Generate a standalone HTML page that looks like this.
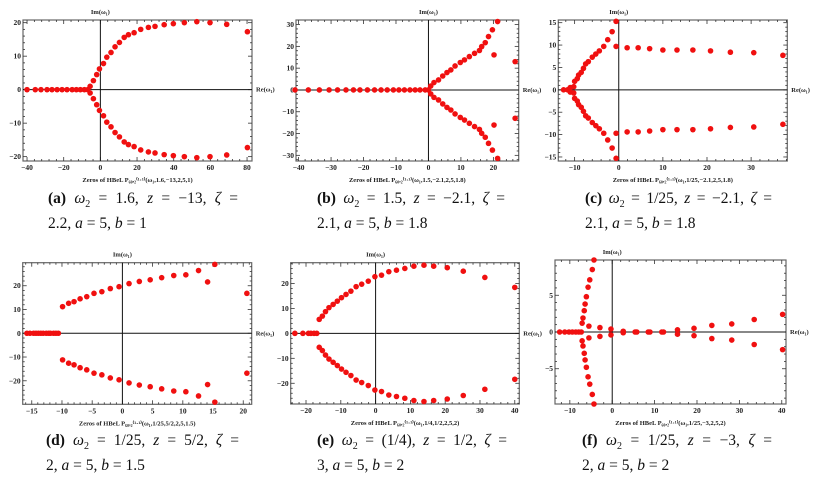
<!DOCTYPE html>
<html><head><meta charset="utf-8">
<style>
body{margin:0;background:#fff;width:818px;height:478px;overflow:hidden;position:relative;font-family:"Liberation Serif",serif;}
svg{position:absolute;left:0;top:0;}
.cap{position:absolute;font-size:15.5px;color:#111;line-height:19px;}
.cap .l1{text-align:justify;text-align-last:justify;white-space:nowrap;}
.cap b{font-weight:bold;}
</style></head>
<body>
<svg id="chart" width="818" height="478" viewBox="0 0 818 478"></svg>

<div class="cap" style="left:48px;top:189px;width:190px;"><div class="l1"><b>(a)</b> <i>ω</i><sub style="font-size:10px">2</sub> = 1.6, <i>z</i> = −13, <i>ζ</i> =</div><div>2.2, <i>a</i> = 5, <i>b</i> = 1</div></div>
<div class="cap" style="left:317px;top:189px;width:188px;"><div class="l1"><b>(b)</b> <i>ω</i><sub style="font-size:10px">2</sub> = 1.5, <i>z</i> = −2.1, <i>ζ</i> =</div><div>2.1, <i>a</i> = 5, <i>b</i> = 1.8</div></div>
<div class="cap" style="left:585px;top:189px;width:187px;"><div class="l1"><b>(c)</b> <i>ω</i><sub style="font-size:10px">2</sub> = 1/25, <i>z</i> = −2.1, <i>ζ</i> =</div><div>2.1, <i>a</i> = 5, <i>b</i> = 1.8</div></div>
<div class="cap" style="left:46px;top:431px;width:193px;"><div class="l1"><b>(d)</b> <i>ω</i><sub style="font-size:10px">2</sub> = 1/25, <i>z</i> = 5/2, <i>ζ</i> =</div><div>2, <i>a</i> = 5, <i>b</i> = 1.5</div></div>
<div class="cap" style="left:317px;top:431px;width:190px;"><div class="l1"><b>(e)</b> <i>ω</i><sub style="font-size:10px">2</sub> = (1/4), <i>z</i> = 1/2, <i>ζ</i> =</div><div>3, <i>a</i> = 5, <i>b</i> = 2</div></div>
<div class="cap" style="left:582px;top:431px;width:190px;"><div class="l1"><b>(f)</b> <i>ω</i><sub style="font-size:10px">2</sub> = 1/25, <i>z</i> = −3, <i>ζ</i> =</div><div>2, <i>a</i> = 5, <i>b</i> = 2</div></div>

<script>
// Panel data (upper half-plane zeros; conjugates are also zeros)
const aX=[-40,-35.5,-32.4,-29.1,-26.4,-23.6,-20.9,-18.2,-15.4,-13.1,-10.9,-8.7,-6.9,-5.6,-3.8,-2,-0.5,1.7,3.5,5.8,8,10.4,13,15.3,18.4,22,26.2,29.8,34.8,39.8,45.8,52.6,59.8,68.9,80.2];
const aY=[0,0,0,0,0,0,0,0,0,0,0,0,0,1,2.7,4.5,6.2,7.8,9.7,11.1,12.8,14.1,15.6,16.4,17,18,18.6,18.9,19.4,19.7,20,20.3,20,19.5,17.3];
const bX=[-41.1,-37,-33.6,-30.6,-28,-25.4,-23.1,-21.1,-18.8,-16.6,-14.6,-12.7,-10.8,-9.1,-7.4,-5.7,-4.1,-2.6,-1,0,0.7,1.7,3.1,4.4,5.7,6.9,8.2,9.8,11.1,12.6,14.2,15.7,16.4,17.5,18.5,19.7,21.3,20.2,26.7];
const bY=[0,0,0,0,0,0,0,0,0,0,0,0,0,0,0,0,0,0,0,0,1.8,3.4,4.6,6.4,8,9.2,11,12.6,13.8,15.3,16.8,18.1,19.9,21.7,24.5,27.6,31.4,16.1,13];
const cX=[-12.5,-11.6,-11,-10.2,-10,-9.4,-9.1,-8.5,-8,-7.5,-6.9,-6,-5.2,-4.4,-3.4,-2.5,-1.5,-0.6,-0.6,1.9,4.4,7,10,13.2,16.8,20.8,25.3,30.6,37.2];
const cY=[0,0,0.5,0.7,1.9,2.5,3.3,3.9,4.8,5.8,6.3,7.3,8,8.7,9.7,11.2,13,15.3,9.7,9.4,9.4,9.2,8.9,8.9,8.9,8.7,8.4,8.3,7.7];
const dX=[-15.8,-15.3,-14.7,-14.3,-13.9,-13.5,-13.1,-12.6,-12.2,-11.9,-11.4,-11,-10.6,-9.9,-8.9,-8,-7,-5.9,-4.7,-3.4,-2,-0.55,1.1,2.8,4.6,6.5,8.5,10.5,12.6,15.3,14.1,20.6];
const dY=[0,0,0,0,0,0,0,0,0,0,0,0,0,11.2,12.6,13.3,14.5,15.4,16.8,17.5,18.8,19.6,20.9,21.8,22.5,23.4,24.3,24.6,26.4,29,21.6,16.8];
const eX=[-23.2,-20.9,-19.3,-18.6,-17.7,-16.9,-16.2,-15.3,-14.4,-13.4,-12.2,-11,-9.8,-8.5,-7.1,-5.6,-4,-2.1,-0.2,1.7,3.8,6,8.4,11,13.9,16.7,20.6,25.2,31.4,40];
const eY=[0,0,0,0,0,0,5.6,6.9,8.7,10.3,11.6,12.9,14.3,15.6,16.9,18.7,19.7,20.9,22.7,23.3,24.7,25.3,26,26.9,27.3,26.9,26.3,24.9,22.4,18.4];
const fX=[-12.4,-11.2,-10.2,-9.4,-8.6,-7.9,-7.3,-7.1,-6.9,-6.6,-6.4,-6.1,-5.7,-5.3,-4.7,-4.3,-5.5,-2.9,-0.3,2.6,5.4,5.8,8.5,8.9,11.7,12.1,15.4,19.3,23.5,28.2,33.5,40.2];
const fY=[0,0,0,0,0,0,0,1.2,1.9,2.9,3.8,4.8,6.1,7.1,8.5,9.8,0.8,0.6,0.4,0.1,0,0,0,0,0,0,0.3,0.5,0.9,1.1,1.7,2.4];
// tick labels
const aXt=[-40,-20,0,20,40,60,80], aYt=[-20,-10,0,10,20];
const bXt=[-40,-30,-20,-10,0,10,20], bYt=[-30,-20,-10,0,10,20,30];
const cXt=[-10,0,10,20,30], cYt=[-15,-10,-5,0,5,10,15];
const dXt=[-15,-10,-5,0,5,10,15,20], dYt=[-20,-10,0,10,20];
const eXt=[-20,-10,0,10,20,30,40], eYt=[-20,-10,0,10,20];
const fXt=[-10,0,10,20,30,40], fYt=[-5,0,5];
const aSub="(ω₁,1.6,−13,2,5,1)", bSub="(ω₁,1.5,−2.1,2,5,1.8)", cSub="(ω₁,1/25,−2.1,2,5,1.8)";
const dSub="(ω₁,1/25,5/2,2,5,1.5)", eSub="(ω₁,1/4,1/2,2,5,2)", fSub="(ω₁,1/25,−3,2,5,2)";

const panels=[
 {id:'a',L:23,R:252,T:20,B:161,xd:[-42.2,82.7],yd:[-21.3,20.8],X:aX,Y:aY,xt:aXt,yt:aYt,sub:aSub},
 {id:'b',L:296,R:518.7,T:20,B:161,xd:[-40.8,27.8],yd:[-32.6,32.1],X:bX,Y:bY,xt:bXt,yt:bYt,sub:bSub},
 {id:'c',L:558.3,R:787.3,T:20,B:161,xd:[-13.7,38.2],yd:[-15.9,15.6],X:cX,Y:cY,xt:cXt,yt:cYt,sub:cSub},
 {id:'d',L:22.7,R:251.7,T:262.7,B:404.3,xd:[-16.5,21.4],yd:[-29.9,29.7],X:dX,Y:dY,xt:dXt,yt:dYt,sub:dSub},
 {id:'e',L:290.7,R:519.3,T:262.7,B:404,xd:[-24.4,41.3],yd:[-28.3,28.3],X:eX,Y:eY,xt:eXt,yt:eYt,sub:eSub},
 {id:'f',L:555,R:786,T:260,B:404,xd:[-13.5,41],yd:[-9.8,9.8],X:fX,Y:fY,xt:fXt,yt:fYt,sub:fSub}
];
const NS='http://www.w3.org/2000/svg';
const svg=document.getElementById('chart');
function mk(tag,attrs,parent){const e=document.createElementNS(NS,tag);for(const k in attrs)e.setAttribute(k,attrs[k]);(parent||svg).appendChild(e);return e;}
panels.forEach(p=>{
  const g=mk('g',{});
  
  
  const sx=v=>p.L+(v-p.xd[0])/(p.xd[1]-p.xd[0])*(p.R-p.L);
  const sy=v=>p.B-(v-p.yd[0])/(p.yd[1]-p.yd[0])*(p.B-p.T);
  const fr=mk('rect',{x:p.L,y:p.T,width:p.R-p.L,height:p.B-p.T,fill:'none',stroke:'#666','stroke-width':1.2},g);
  
  
  const xs=p.xt[1]-p.xt[0], ys=p.yt[1]-p.yt[0];
  for(let v=p.xt[0]-xs;v<=p.xt[p.xt.length-1]+xs+1e-9;v+=xs/5){
    const x=sx(v); if(x<p.L+0.5||x>p.R-0.5)continue;
    const maj=Math.abs(Math.round((v-p.xt[0])/xs)*xs-(v-p.xt[0]))<1e-6;
    const len=maj?4:2;
    mk('line',{x1:x,x2:x,y1:p.B,y2:p.B-len,stroke:'#333','stroke-width':0.8},g);
    mk('line',{x1:x,x2:x,y1:p.T,y2:p.T+len,stroke:'#333','stroke-width':0.8},g);
  }
  for(let v=p.yt[0]-ys;v<=p.yt[p.yt.length-1]+ys+1e-9;v+=ys/5){
    const y=sy(v); if(y<p.T+0.5||y>p.B-0.5)continue;
    const maj=Math.abs(Math.round((v-p.yt[0])/ys)*ys-(v-p.yt[0]))<1e-6;
    const len=maj?4:2;
    mk('line',{x1:p.L,x2:p.L+len,y1:y,y2:y,stroke:'#333','stroke-width':0.8},g);
    mk('line',{x1:p.R,x2:p.R-len,y1:y,y2:y,stroke:'#333','stroke-width':0.8},g);
  }
  p.xt.forEach(v=>{const t=mk('text',{x:sx(v),y:p.B+9,'font-size':7.5,'font-weight':'bold','text-anchor':'middle',fill:'#222','font-family':'Liberation Serif, serif'},g);t.textContent=v<0?'−'+(-v):v;
    
    });
  p.yt.forEach(v=>{const t=mk('text',{x:p.L-2,y:sy(v)+2.5,'font-size':7.5,'font-weight':'bold','text-anchor':'end',fill:'#222','font-family':'Liberation Serif, serif'},g);t.textContent=v<0?'−'+(-v):v;
    
    });
  const x0=sx(0), y0=sy(0);
  const ya=mk('line',{x1:x0,x2:x0,y1:p.T,y2:p.B,stroke:'#111','stroke-width':1},g);
  
  
  const xa=mk('line',{x1:p.L,x2:p.R,y1:y0,y2:y0,stroke:'#111','stroke-width':1},g);
  
  
  const im=mk('text',{x:x0,y:p.T-6,'font-size':6.5,'font-weight':'bold','text-anchor':'middle',fill:'#222','font-family':'Liberation Serif, serif'},g);
  im.textContent='Im(ω₁)';
  
  
  const re=mk('text',{x:p.R+4,y:y0+2,'font-size':6.5,'font-weight':'bold',fill:'#222','font-family':'Liberation Serif, serif'},g);
  re.textContent='Re(ω₁)';
  
  
  const st=mk('text',{x:(p.L+p.R)/2,y:p.B+21,'font-size':6.5,'font-weight':'bold','text-anchor':'middle',fill:'#222','font-family':'Liberation Serif, serif'},g);
  st.textContent='Zeros of  HBeL P₆₀,₂⁽¹·¹⁾'+p.sub;
  
  
  p.X.forEach((xv,i)=>{
    [p.Y[i],-p.Y[i]].forEach((yv,k)=>{
      if(k===1&&p.Y[i]===0)return;
      const c=mk('circle',{cx:sx(xv),cy:sy(yv),r:2.8,fill:'#f01010'},g);
      
      
    });
  });
});
</script>
</body></html>
